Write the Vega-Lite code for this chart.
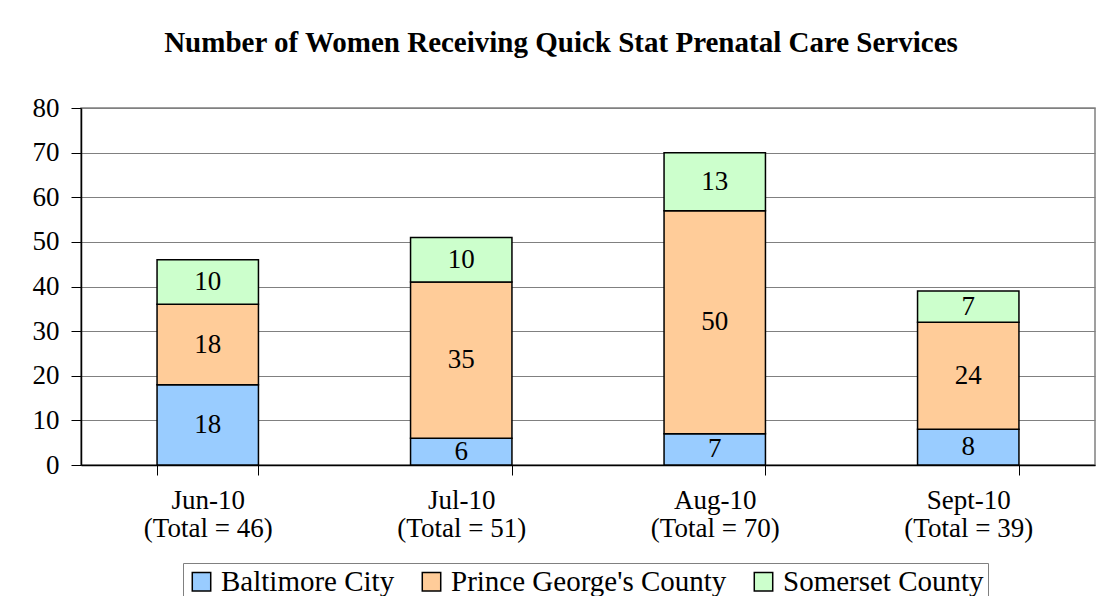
{
  "$schema": "https://vega.github.io/schema/vega-lite/v6.json",
  "autosize": "none",
  "width": 1014,
  "height": 357,
  "padding": {"left": 81, "top": 108, "right": 6, "bottom": 131},
  "background": "white",
  "title": {
    "text": "Number of Women Receiving Quick Stat Prenatal Care Services",
    "font": "Liberation Serif",
    "fontSize": 29,
    "fontWeight": "bold",
    "color": "black",
    "anchor": "middle",
    "dx": -27,
    "offset": 36
  },
  "data": {
    "values": [
      {"period": "Jun-10\n(Total = 46)", "county": "Baltimore City", "value": 18},
      {"period": "Jun-10\n(Total = 46)", "county": "Prince George's County", "value": 18},
      {"period": "Jun-10\n(Total = 46)", "county": "Somerset County", "value": 10},
      {"period": "Jul-10\n(Total = 51)", "county": "Baltimore City", "value": 6},
      {"period": "Jul-10\n(Total = 51)", "county": "Prince George's County", "value": 35},
      {"period": "Jul-10\n(Total = 51)", "county": "Somerset County", "value": 10},
      {"period": "Aug-10\n(Total = 70)", "county": "Baltimore City", "value": 7},
      {"period": "Aug-10\n(Total = 70)", "county": "Prince George's County", "value": 50},
      {"period": "Aug-10\n(Total = 70)", "county": "Somerset County", "value": 13},
      {"period": "Sept-10\n(Total = 39)", "county": "Baltimore City", "value": 8},
      {"period": "Sept-10\n(Total = 39)", "county": "Prince George's County", "value": 24},
      {"period": "Sept-10\n(Total = 39)", "county": "Somerset County", "value": 7}
    ]
  },
  "transform": [
    {"stack": "value", "groupby": ["period"], "sort": [{"field": "county", "order": "ascending"}], "as": ["v0", "v1"]},
    {"calculate": "(datum.v0 + datum.v1) / 2", "as": "mid"}
  ],
  "encoding": {
    "x": {
      "field": "period",
      "type": "nominal",
      "sort": null,
      "title": null,
      "scale": {"paddingInner": 0.6, "paddingOuter": 0.3},
      "axis": {
        "labelAngle": 0,
        "labelExpr": "split(datum.label, '\\n')",
        "labelFont": "Liberation Serif",
        "labelFontSize": 27,
        "labelColor": "black",
        "labelLineHeight": 28,
        "labelPadding": 12,
        "labelLimit": 300,
        "tickBand": "extent",
        "tickSize": 10,
        "tickColor": "black",
        "domainColor": "black",
        "domainWidth": 1.5,
        "grid": false
      }
    }
  },
  "layer": [
    {
      "mark": {"type": "bar", "stroke": "black", "strokeWidth": 1.5},
      "encoding": {
        "y": {
          "field": "v0",
          "type": "quantitative",
          "scale": {"domain": [0, 80]},
          "title": null,
          "axis": {
            "values": [0, 10, 20, 30, 40, 50, 60, 70, 80],
            "labelFont": "Liberation Serif",
            "labelFontSize": 27,
            "labelColor": "black",
            "labelPadding": 12,
            "tickSize": 10,
            "tickColor": "black",
            "domainColor": "black",
            "domainWidth": 1.5,
            "grid": true,
            "gridColor": "#808080",
            "gridWidth": 1
          }
        },
        "y2": {"field": "v1"},
        "color": {
          "field": "county",
          "type": "nominal",
          "scale": {
            "domain": ["Baltimore City", "Prince George's County", "Somerset County"],
            "range": ["#99CCFF", "#FFCC99", "#CCFFCC"]
          },
          "legend": {
            "title": null,
            "orient": "none",
            "direction": "horizontal",
            "legendX": 102,
            "legendY": 455,
            "strokeColor": "#808080",
            "padding": 4,
            "symbolType": "square",
            "symbolSize": 340,
            "symbolStrokeColor": "black",
            "symbolStrokeWidth": 1.5,
            "symbolOpacity": 1,
            "labelFont": "Liberation Serif",
            "labelFontSize": 29,
            "labelColor": "black",
            "labelOffset": 5,
            "labelLimit": 400,
            "columnPadding": 22
          }
        }
      }
    },
    {
      "mark": {"type": "text", "font": "Liberation Serif", "fontSize": 27, "color": "black", "baseline": "middle"},
      "encoding": {
        "y": {"field": "mid", "type": "quantitative"},
        "text": {"field": "value", "type": "quantitative"}
      }
    }
  ],
  "config": {
    "view": {"stroke": "#808080", "strokeWidth": 1.5}
  }
}
